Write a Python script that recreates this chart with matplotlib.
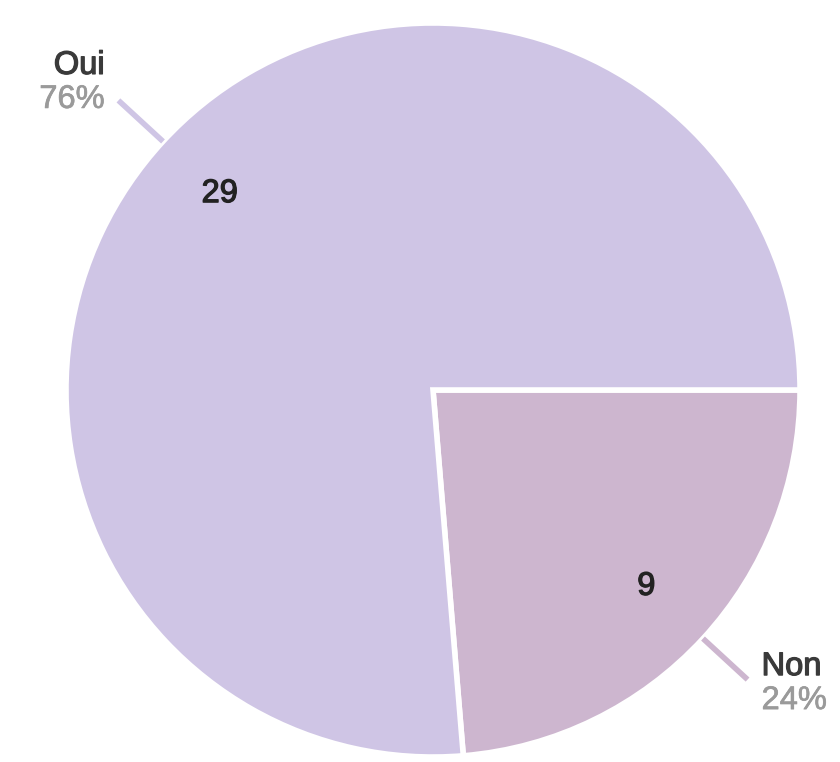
import numpy as np
import matplotlib
matplotlib.use("Agg")
import matplotlib.pyplot as plt
import matplotlib.patheffects as pe

categories = ["Non", "Oui"]
counts = [9, 29]
colors = ["#CDB6CF", "#CFC5E5"]
line_colors = ["#CDB6CF", "#CFC5E5"]

W, H = 840, 762
fig = plt.figure(figsize=(W / 100, H / 100), dpi=100)
ax = fig.add_axes([0, 0, 1, 1])

FONT = "Liberation Sans"
FS = 23.5

def bold(c, w=0.9):
    return [pe.withStroke(linewidth=w, foreground=c)]

cx, cy, r = 433, 372, 367
wedges, texts, autotexts = ax.pie(
    counts, colors=colors, startangle=0, counterclock=False,
    center=(cx, cy), radius=r, frame=True,
    autopct=lambda p: f"{round(p * sum(counts) / 100):d}", pctdistance=0.79,
    wedgeprops=dict(edgecolor="white", linewidth=4),
    textprops=dict(fontsize=FS, color="#222222", family=FONT,
                   path_effects=bold("#222222")),
)
ax.set_xlim(0, W)
ax.set_ylim(0, H)
ax.set_aspect("equal")
ax.axis("off")

total = sum(counts)
for w, cat, n, lc in zip(wedges, categories, counts, line_colors):
    ang = np.deg2rad((w.theta1 + w.theta2) / 2)
    ca, sa = np.cos(ang), np.sin(ang)
    x0, y0 = cx + r * 1.0 * ca, cy + r * 1.0 * sa
    x1, y1 = cx + r * 1.165 * ca, cy + r * 1.165 * sa
    ax.plot([x0, x1], [y0, y1], color=lc, lw=4, solid_capstyle="butt", zorder=3)
    pct = f"{round(100 * n / total)}%"
    if ca < 0:
        tx, ha, yo = x1 - 14, "right", 18
    else:
        tx, ha, yo = x1 + 14, "left", -4
    ax.text(tx, y1 + yo + 17, cat, ha=ha, va="center", fontsize=FS,
            color="#3a3a3a", family=FONT, path_effects=bold("#3a3a3a"))
    ax.text(tx, y1 + yo - 17, pct, ha=ha, va="center", fontsize=FS,
            color="#9a9a9a", family=FONT, path_effects=bold("#9a9a9a", 0.5))

fig.savefig("out.png", dpi=100)
